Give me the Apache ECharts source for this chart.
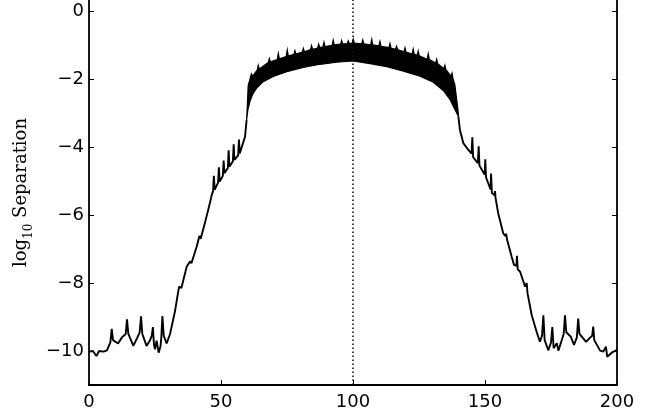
<!DOCTYPE html>
<html><head><meta charset="utf-8">
<script src="https://cdn.jsdelivr.net/npm/echarts@6/dist/echarts.min.js"></script>
<style>html,body{margin:0;padding:0;background:#fff}#c{width:645px;height:420px}</style>
</head><body><div id="c"></div>
<script>
// left part of the curve (x, log10 separation)
const leftX = [0, 1.5, 2.8, 3.8, 5.5, 6.8, 8.1, 8.6, 9.1, 11, 12.5, 13.9, 14.4, 14.9, 16.8, 18.2, 19.2, 19.7, 20.2, 21.8, 23, 23.8, 24.2, 24.6, 25.0, 25.6, 26.4, 27.1, 27.4, 27.8, 28.3, 29.4, 30.7, 32.6, 33.8, 34.2, 35.0, 37, 38.3, 38.8, 40.8, 41.8, 42.3, 43.9, 45.8, 46.5, 47.0, 47.3, 47.6, 48.9, 49.2, 49.5, 50.7, 51.0, 51.3, 52.6, 52.9, 53.2, 54.5, 54.8, 55.1, 56.5, 56.8, 57.1, 59.1, 59.7];
const leftY = [-10.02, -10.0, -10.15, -10.0, -10.02, -9.98, -9.75, -9.35, -9.68, -9.78, -9.6, -9.5, -9.07, -9.5, -9.85, -9.62, -9.45, -8.98, -9.5, -9.85, -9.7, -9.55, -9.3, -9.8, -9.95, -9.7, -10.05, -9.85, -9.6, -8.97, -9.55, -9.78, -9.5, -8.82, -8.25, -8.1, -8.15, -7.52, -7.36, -7.42, -6.93, -6.62, -6.7, -6.24, -5.65, -5.41, -5.3, -4.85, -5.26, -5.05, -4.6, -5.02, -4.85, -4.4, -4.77, -4.62, -4.1, -4.58, -4.42, -3.92, -4.38, -4.25, -3.78, -4.19, -3.7, -3.21];

// dense oscillating band: lower and upper envelopes
const bandLowX = [59.7, 60.2, 61, 62, 63.5, 66, 69.8, 74.9, 81.2, 87.5, 93.8, 100, 106.4, 112.8, 119.1, 125.4, 130.4, 134.2, 136.7, 138.6, 139.9];
const bandLowY = [-3.21, -2.9, -2.65, -2.45, -2.27, -2.08, -1.93, -1.79, -1.66, -1.57, -1.51, -1.47, -1.55, -1.64, -1.77, -1.92, -2.1, -2.34, -2.6, -2.9, -3.1];
const bandUpX = [59.9, 60.3, 61.0, 61.5, 62.0, 63.7, 64.1, 64.5, 67.9, 68.3, 68.7, 71.3, 71.7, 72.1, 74.7, 75.1, 75.5, 77.6, 78.0, 78.4, 80.8, 81.2, 81.6, 83.9, 84.3, 84.7, 86.6, 87.0, 87.4, 88.6, 89.0, 89.4, 92.1, 92.5, 92.9, 95.3, 95.7, 96.1, 97.8, 98.2, 98.6, 99.7, 100.1, 100.5, 103.3, 103.7, 104.1, 106.7, 107.1, 107.5, 109.8, 110.2, 110.6, 113.6, 114.0, 114.4, 116.1, 116.5, 116.9, 119.3, 119.7, 120.1, 122.4, 122.8, 123.2, 124.3, 124.7, 125.1, 128.1, 128.5, 128.9, 131.3, 131.7, 132.1, 134.4, 134.8, 135.2, 137.1, 137.5, 137.9, 138.6, 139.3, 139.9];
const bandUpY = [-2.9, -2.2, -2.0, -1.85, -1.92, -1.74, -1.6, -1.71, -1.52, -1.4, -1.5, -1.43, -1.25, -1.41, -1.34, -1.15, -1.33, -1.28, -1.17, -1.27, -1.21, -1.1, -1.2, -1.14, -1.02, -1.13, -1.09, -0.98, -1.08, -1.06, -0.92, -1.05, -1.01, -0.86, -1.0, -0.98, -0.87, -0.97, -0.96, -0.88, -0.96, -0.95, -0.83, -0.95, -0.97, -0.85, -0.97, -1.0, -0.84, -1.0, -1.03, -0.9, -1.04, -1.08, -0.96, -1.09, -1.13, -1.04, -1.14, -1.2, -1.08, -1.21, -1.27, -1.12, -1.28, -1.31, -1.18, -1.32, -1.42, -1.26, -1.43, -1.53, -1.42, -1.55, -1.7, -1.6, -1.73, -1.92, -1.83, -2.0, -2.18, -2.62, -3.0];

// right part of the curve
const rightX = [139.9, 140.5, 141.8, 143.7, 144.9, 145.2, 145.5, 147.3, 147.6, 147.9, 149.9, 150.1, 150.4, 152.1, 152.3, 152.6, 153.6, 153.8, 154.0, 155, 156.9, 157.8, 158.0, 158.4, 160.1, 161.0, 161.9, 162.1, 162.4, 163.3, 165.2, 165.6, 165.8, 166.1, 167.7, 169.6, 170.8, 171.6, 172.1, 172.6, 174.0, 175.0, 175.5, 176.0, 177.2, 177.8, 179.0, 179.8, 180.3, 180.8, 182.5, 183.7, 184.8, 185.3, 185.8, 188.3, 189.5, 190.6, 191.0, 191.4, 193.6, 194.8, 195.8, 196.3, 198.0, 199.2, 200];
const rightY = [-3.1, -3.5, -3.89, -4.09, -4.2, -3.72, -4.3, -4.48, -3.98, -4.55, -4.82, -4.36, -4.9, -5.25, -4.78, -5.35, -5.42, -5.3, -5.5, -5.95, -6.54, -6.62, -6.55, -6.74, -7.23, -7.47, -7.5, -7.2, -7.6, -7.67, -8.11, -8.15, -8.0, -8.3, -8.95, -9.45, -9.73, -9.55, -8.95, -9.68, -9.98, -9.75, -9.3, -9.92, -9.77, -9.99, -9.7, -9.5, -8.95, -9.45, -9.58, -9.82, -9.6, -9.05, -9.5, -9.73, -9.63, -9.55, -9.28, -9.68, -9.99, -10.02, -9.87, -10.17, -10.05, -10.0, -9.97];

const xTicks = [0, 50, 100, 150, 200];
const yTicks = [-10, -8, -6, -4, -2, 0];
const markX = 100;

const zip = (xs, ys) => xs.map((x, i) => [x, ys[i]]);
const fmt = v => String(v).replace('-', '\u2212');
const tickFont = { fontFamily: 'DejaVu Sans', fontSize: 18, color: '#000' };

const chart = echarts.init(document.getElementById('c'));
chart.setOption({
  animation: false,
  backgroundColor: '#fff',
  grid: { left: 89, right: 28, top: 0, bottom: 35 },
  xAxis: {
    type: 'value', min: 0, max: 200, interval: 50,
    axisLine: { show: true, onZero: false, lineStyle: { color: '#000', width: 1.8 } },
    axisTick: { show: true, inside: true, length: 5, customValues: xTicks, lineStyle: { color: '#000', width: 1 } },
    axisLabel: Object.assign({ margin: 8, formatter: fmt, customValues: xTicks }, tickFont),
    splitLine: { show: false }
  },
  yAxis: [{
    type: 'value', min: -11, max: 0.32,
    axisLine: { show: true, onZero: false, lineStyle: { color: '#000', width: 1.8 } },
    axisTick: { show: true, inside: true, length: 5, customValues: yTicks, lineStyle: { color: '#000', width: 1 } },
    axisLabel: Object.assign({ margin: 5, formatter: fmt, customValues: yTicks }, tickFont),
    splitLine: { show: false },
    name: '{a|log}{b|10}{a| Separation}',
    nameLocation: 'middle', nameRotate: 90, nameGap: 50,
    nameTextStyle: {
      rich: {
        a: { fontFamily: 'DejaVu Serif', fontSize: 18, color: '#000', lineHeight: 28, verticalAlign: 'middle' },
        b: { fontFamily: 'DejaVu Serif', fontSize: 12, color: '#000', lineHeight: 28, verticalAlign: 'bottom' }
      }
    }
  }, {
    type: 'value', min: -11, max: 0.32, position: 'right',
    axisLine: { show: true, onZero: false, lineStyle: { color: '#000', width: 1.8 } },
    axisTick: { show: true, inside: true, length: 5, customValues: yTicks, lineStyle: { color: '#000', width: 1 } },
    axisLabel: { show: false },
    splitLine: { show: false }
  }],
  series: [
    {
      type: 'custom', coordinateSystem: 'cartesian2d', data: [[markX, -1.5]],
      encode: { x: 0, y: 1 }, silent: true, z: 2,
      renderItem: function (params, api) {
        const pts = [];
        for (let i = 0; i < bandLowX.length; i++) pts.push(api.coord([bandLowX[i], bandLowY[i]]));
        for (let i = bandUpX.length - 1; i >= 0; i--) pts.push(api.coord([bandUpX[i], bandUpY[i]]));
        return { type: 'polygon', shape: { points: pts }, style: { fill: '#000', stroke: '#000', lineWidth: 1.2 } };
      }
    },
    {
      type: 'line', data: zip(leftX, leftY), showSymbol: false, symbol: 'none',
      lineStyle: { color: '#000', width: 1.9 }, z: 3,
      markLine: {
        silent: true, symbol: 'none', label: { show: false },
        lineStyle: { color: '#111', width: 1.6, type: [1.6, 2.4] },
        data: [{ xAxis: markX }]
      }
    },
    {
      type: 'line', data: zip(rightX, rightY), showSymbol: false, symbol: 'none',
      lineStyle: { color: '#000', width: 1.9 }, z: 3
    }
  ]
});
</script>
</body></html>
